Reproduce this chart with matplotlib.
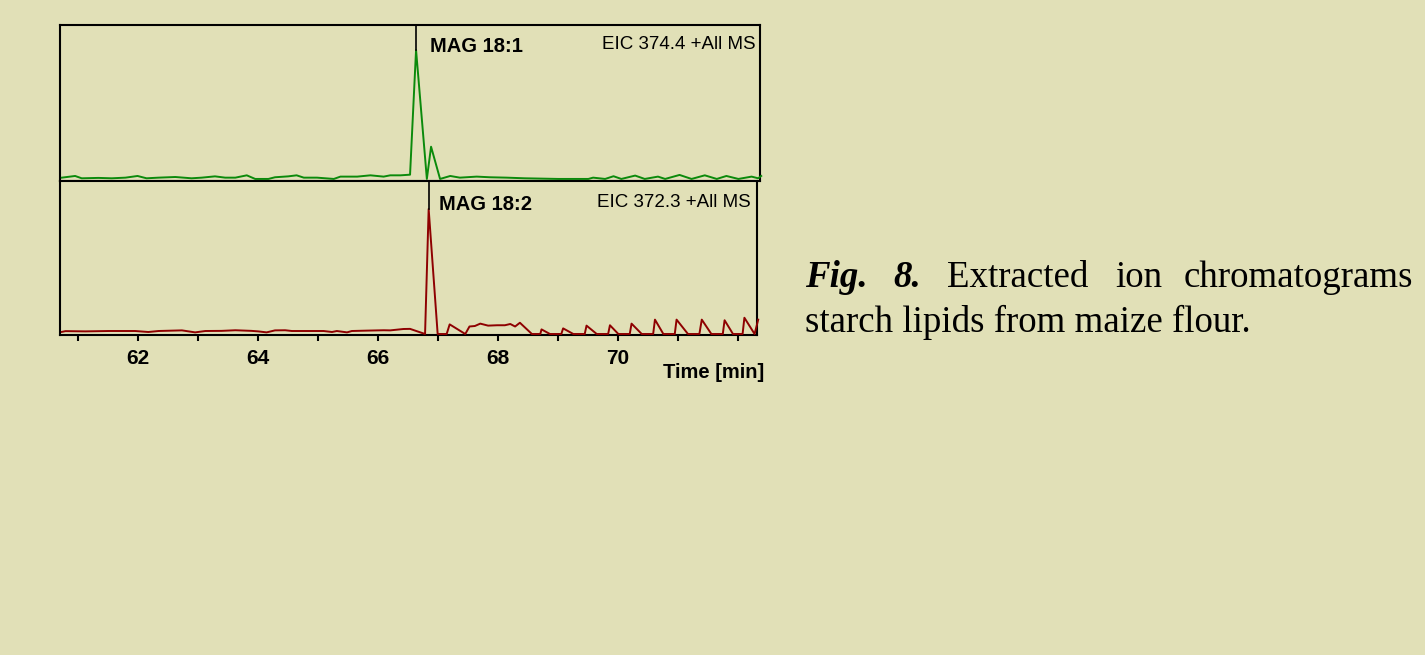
"""
MAG 18:1 / MAG 18:2 的提取离子色谱图 (EIC)，玉米粉淀粉脂质
"""

import matplotlib

matplotlib.use("Agg")
import matplotlib.pyplot as plt
from matplotlib import ticker

BG = "#e1e0b7"
GREEN = "#0b8a0b"
DARK_RED = "#8e0000"

# 上图：EIC 374.4 (MAG 18:1)，相对强度（峰顶 = 100）
TOP_TIME = [
    60.74, 60.96, 61.07, 61.35, 61.57, 61.80, 62.00, 62.15, 62.35, 62.63,
    62.90, 63.07, 63.29, 63.46, 63.63, 63.82, 63.96, 64.18, 64.29, 64.51,
    64.65, 64.77, 64.99, 65.27, 65.38, 65.66, 65.88, 66.10, 66.21, 66.38,
    66.54, 66.64, 66.82, 66.89, 67.04, 67.21, 67.37, 67.65, 67.87, 68.15,
    68.45, 69.01, 69.51, 69.59, 69.79, 69.93, 70.06, 70.29, 70.45, 70.67,
    70.79, 71.03, 71.23, 71.45, 71.65, 71.81, 72.01, 72.23, 72.34, 72.39,
]
TOP_INT = [
    1.0, 2.3, 0.5, 0.8, 0.5, 1.0, 2.3, 0.5, 1.0, 1.5,
    0.5, 1.0, 2.0, 1.0, 1.0, 2.8, 0.0, 0.0, 1.3, 2.0,
    2.8, 1.0, 1.0, 0.0, 1.8, 1.8, 2.8, 1.8, 2.8, 2.8,
    3.3, 100.0, 0.0, 25.0, 0.0, 2.3, 1.0, 1.8, 1.3, 1.0,
    0.5, 0.0, 0.0, 1.0, 0.0, 2.1, 0.0, 2.6, 0.0, 1.8,
    0.0, 3.1, 0.0, 2.8, 0.0, 2.3, 0.0, 1.8, 0.5, 2.3,
]

# 下图：EIC 372.3 (MAG 18:2)
BOT_TIME = [
    60.74, 60.80, 61.13, 61.52, 61.96, 62.18, 62.35, 62.74, 62.96, 63.13,
    63.40, 63.63, 63.90, 64.01, 64.15, 64.29, 64.46, 64.57, 65.10, 65.24,
    65.32, 65.49, 65.57, 65.82, 66.10, 66.21, 66.43, 66.54, 66.79, 66.85,
    67.00, 67.15, 67.20, 67.46, 67.53, 67.62, 67.71, 67.84, 67.99, 68.12,
    68.21, 68.29, 68.37, 68.57, 68.71, 68.73, 68.87, 69.06, 69.09, 69.26,
    69.45, 69.48, 69.65, 69.84, 69.87, 70.01, 70.20, 70.23, 70.40, 70.59,
    70.62, 70.76, 70.95, 70.98, 71.17, 71.36, 71.40, 71.56, 71.75, 71.78,
    71.92, 72.08, 72.11, 72.28, 72.34,
]
BOT_INT = [
    1.7, 2.3, 2.1, 2.4, 2.4, 1.6, 2.4, 2.9, 1.3, 2.4,
    2.5, 3.0, 2.5, 2.1, 1.3, 2.9, 3.0, 2.4, 2.4, 1.6,
    2.4, 1.3, 2.4, 2.7, 3.0, 2.9, 4.0, 4.1, 0.0, 100.0,
    0.0, 0.0, 7.7, 0.0, 6.0, 6.4, 8.3, 6.7, 7.0, 7.0,
    8.0, 6.0, 9.0, 0.0, 0.0, 3.7, 0.0, 0.0, 4.5, 0.0,
    0.0, 6.7, 0.0, 0.0, 7.0, 0.0, 0.0, 8.3, 0.0, 0.0,
    11.5, 0.0, 0.0, 11.5, 0.0, 0.0, 11.5, 0.0, 0.0, 11.0,
    0.0, 0.0, 13.0, 0.0, 11.5,
]

MAJOR_TICKS = [62, 64, 66, 68, 70, 72]
MAJOR_LABELS = ["62", "64", "66", "68", "70", ""]
MINOR_TICKS = [61, 63, 65, 67, 69, 71]

SANS = ["Liberation Sans", "DejaVu Sans"]
SERIF = ["Liberation Serif", "DejaVu Serif"]


def style_box(ax):
    ax.set_facecolor(BG)
    for sp in ax.spines.values():
        sp.set_linewidth(1.5)
        sp.set_color("black")
    ax.set_yticks([])


def draw_trace(ax, ts, ys, color, ylim):
    ax.plot(ts, ys, "-", color=color, linewidth=1.4, clip_on=False, zorder=3)
    ax.set_ylim(*ylim)
    # 峰顶标记线
    k = max(range(len(ys)), key=lambda i: ys[i])
    ax.plot([ts[k], ts[k]], [ys[k], ylim[1]], color="black", linewidth=1.2, zorder=4)


W, H = 1425, 655
fig = plt.figure(figsize=(W / 100, H / 100), dpi=100, facecolor=BG)

ax_top = fig.add_axes([59.5 / W, 1 - 181 / H, 700.5 / W, 156 / H])
ax_bot = fig.add_axes([59.5 / W, 1 - 335 / H, 697.5 / W, 154 / H])

for ax in (ax_top, ax_bot):
    style_box(ax)

draw_trace(ax_top, TOP_TIME, TOP_INT, GREEN, (-1.6, 119.4))
ax_top.set_xlim(60.70, 72.37)
ax_top.set_xticks([])

draw_trace(ax_bot, BOT_TIME, BOT_INT, DARK_RED, (-0.8, 122.4))
ax_bot.set_xlim(60.70, 72.32)
ax_bot.xaxis.set_major_locator(ticker.FixedLocator(MAJOR_TICKS))
ax_bot.xaxis.set_major_formatter(ticker.FixedFormatter(MAJOR_LABELS))
ax_bot.xaxis.set_minor_locator(ticker.FixedLocator(MINOR_TICKS))
ax_bot.tick_params(axis="x", which="both", direction="out", length=4, width=1.5, pad=6)
for lab in ax_bot.get_xticklabels():
    lab.set_fontfamily(SANS)
    lab.set_fontweight("bold")
    lab.set_fontsize(15)

# 面板标注
ax_top.text(0.529, 0.827, "MAG 18:1", transform=ax_top.transAxes, family=SANS,
            fontsize=14.5, fontweight="bold", va="baseline", ha="left")
ax_top.text(0.994, 0.844, "EIC 374.4 +All MS", transform=ax_top.transAxes, family=SANS,
            fontsize=13.5, va="baseline", ha="right")
ax_bot.text(0.544, 0.812, "MAG 18:2", transform=ax_bot.transAxes, family=SANS,
            fontsize=14.5, fontweight="bold", va="baseline", ha="left")
ax_bot.text(0.991, 0.829, "EIC 372.3 +All MS", transform=ax_bot.transAxes, family=SANS,
            fontsize=13.5, va="baseline", ha="right")

fig.text(764 / W, 1 - 378 / H, "Time [min]", family=SANS, fontsize=14.5,
         fontweight="bold", ha="right", va="baseline")

# 图注（两端对齐，逐词放置）
y1 = 1 - 287 / H
y2 = 1 - 332 / H
cap = dict(family=SERIF, fontsize=26.6, va="baseline", ha="left")
fig.text(805 / W, y1, "Fig.", fontweight="bold", style="italic", **cap)
fig.text(893 / W, y1, "8.", fontweight="bold", style="italic", **cap)
fig.text(947 / W, y1, "Extracted", **cap)
fig.text(1115 / W, y1, "ion", **cap)
fig.text(1184 / W, y1, "chromatograms", **cap)
fig.text(805 / W, y2, "starch lipids from maize flour.", **cap)

fig.savefig("out.png", dpi=100, facecolor=BG)
plt.close(fig)
print("saved out.png")
